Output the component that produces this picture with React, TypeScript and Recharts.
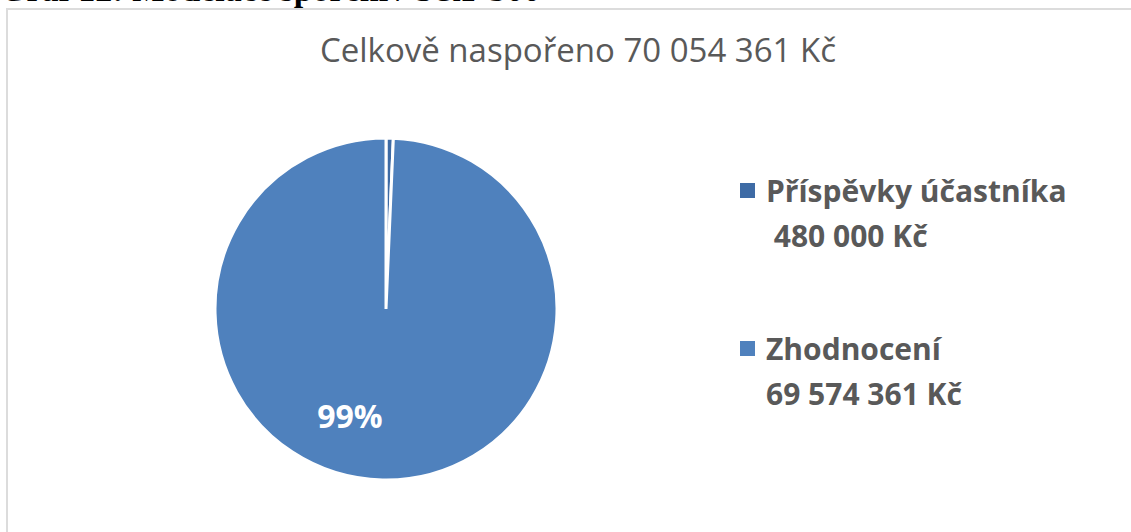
import React from 'react';
import { PieChart, Pie, Cell } from 'recharts';

// values
const categories = ['Příspěvky účastníka', 'Zhodnocení'];
const amounts = [480000, 69574361];
const amountLabels = [' 480 000 Kč', '69 574 361 Kč'];
const colors = ['#3e6ba5', '#4f81bd'];
const chartTitle = 'Celkově naspořeno 70 054 361 Kč';
const captionText = 'Graf 12: Modelace spoření / S&P 500';

const RADIAN = Math.PI / 180;

const renderLabel = (props: any) => {
    const { cx, cy, midAngle, outerRadius, percent } = props;
    if (percent < 0.05) return null;
    // Excel "best fit" puts the label a bit left of the slice middle
    const ang = midAngle - 17.4;
    const r = outerRadius * 0.66;
    const x = cx + r * Math.cos(-ang * RADIAN);
    const y = cy + r * Math.sin(-ang * RADIAN);
    return (
        <text x={x} y={y} fill="#ffffff" textAnchor="middle" dominantBaseline="central"
            style={{ fontFamily: '"Open Sans", sans-serif', fontWeight: 700, fontSize: 32 }}>
            {`${Math.round(percent * 100)}%`}
        </text>
    );
};

export default function App() {
    const data = categories.map((name, i) => ({ name, value: amounts[i] }));

    return (
        <div style={{ position: 'absolute', left: 0, top: 0, width: 1131, height: 532, overflow: 'hidden', background: '#fff' }}>
            {/* caption of the document, mostly cut off at the top */}
            <div style={{
                position: 'absolute', left: 0, top: -27.5, whiteSpace: 'pre',
                fontFamily: '"Liberation Serif", serif', fontWeight: 700, fontSize: 34, lineHeight: '34px', color: '#000'
            }}>
                {captionText}
            </div>

            {/* chart frame */}
            <div style={{
                position: 'absolute', left: 6, top: 8, width: 1200, height: 600,
                borderLeft: '2px solid #dcdcdc', borderTop: '2px solid #dcdcdc'
            }} />

            <div style={{
                position: 'absolute', left: 0, width: 1156, top: 33, textAlign: 'center', whiteSpace: 'pre',
                fontFamily: '"Open Sans", sans-serif', fontSize: 33, lineHeight: '33px', color: '#595959'
            }}>
                {chartTitle}
            </div>

            <div style={{ position: 'absolute', left: 0, top: 0 }}>
                <PieChart width={1131} height={532} margin={{ top: 0, right: 0, bottom: 0, left: 0 }}>
                    <Pie
                        data={data}
                        dataKey="value"
                        nameKey="name"
                        cx={386}
                        cy={309}
                        outerRadius={171}
                        startAngle={90}
                        endAngle={-270}
                        stroke="#ffffff"
                        strokeWidth={3}
                        label={renderLabel}
                        labelLine={false}
                        isAnimationActive={false}
                    >
                        {data.map((entry, index) => (
                            <Cell key={`cell-${index}`} fill={colors[index]} />
                        ))}
                    </Pie>
                </PieChart>
            </div>

            {/* legend */}
            <div style={{ position: 'absolute', left: 740, top: 168, width: 390 }}>
                {categories.map((c, i) => (
                    <div key={c} style={{ display: 'flex', alignItems: 'flex-start', marginBottom: i === 0 ? 68 : 0 }}>
                        <div style={{ width: 15, height: 15, marginTop: 15, background: colors[i], flexShrink: 0 }} />
                        <div style={{
                            marginLeft: 11, whiteSpace: 'pre', fontFamily: '"Open Sans", sans-serif', fontWeight: 700,
                            fontSize: 30, lineHeight: '45px', color: '#595959'
                        }}>
                            <div>{c}</div>
                            <div>{amountLabels[i]}</div>
                        </div>
                    </div>
                ))}
            </div>
        </div>
    );
}
